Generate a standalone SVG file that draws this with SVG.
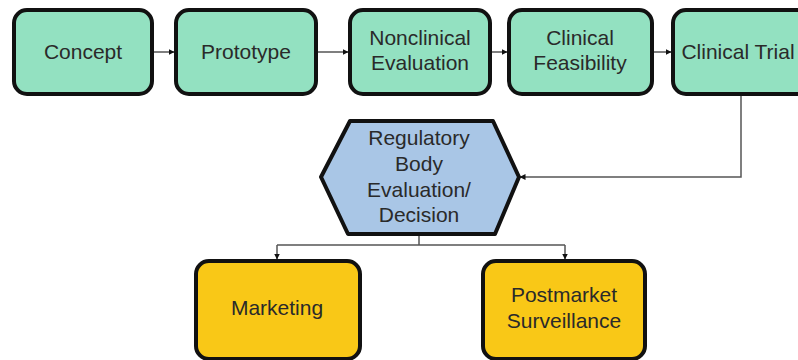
<svg xmlns="http://www.w3.org/2000/svg" width="798" height="360" viewBox="0 0 798 360">
<defs>
<marker id="ah" markerWidth="6" markerHeight="6" refX="5.5" refY="3" orient="auto" markerUnits="userSpaceOnUse">
<path d="M0,0 L6,3 L0,6 Z" fill="#111"/>
</marker>
<style>
.g{fill:#93e1c1;stroke:#111;stroke-width:4}
.y{fill:#f9c817;stroke:#111;stroke-width:4}
.h{fill:#a9c6e6;stroke:#111;stroke-width:4;stroke-linejoin:round}
text{font-family:"Liberation Sans",Arial,sans-serif;font-size:21px;fill:#2a2a2a;text-anchor:middle}
.c{fill:none;stroke:#555;stroke-width:1.5}
</style>
</defs>
<rect width="798" height="360" fill="#fff"/>
<g id="connectors">
<path class="c" d="M152,52 H174" marker-end="url(#ah)"/>
<path class="c" d="M316,52 H348" marker-end="url(#ah)"/>
<path class="c" d="M490,52 H507" marker-end="url(#ah)"/>
<path class="c" d="M652,52 H671" marker-end="url(#ah)"/>
<path class="c" d="M741,94 V177 H520" marker-end="url(#ah)"/>
<path class="c" d="M419,234 V245"/>
<path class="c" d="M277,245 H565"/>
<path class="c" d="M277,245 V259" marker-end="url(#ah)"/>
<path class="c" d="M565,245 V259" marker-end="url(#ah)"/>
</g>
<g id="concept"><rect class="g" x="14" y="10" width="138" height="84" rx="13"/><text x="83" y="59">Concept</text></g>
<g id="prototype"><rect class="g" x="176" y="10" width="140" height="84" rx="13"/><text x="246" y="59">Prototype</text></g>
<g id="nonclinical"><rect class="g" x="350" y="10" width="140" height="84" rx="13"/><text x="420" y="45">Nonclinical</text><text x="420" y="70">Evaluation</text></g>
<g id="feasibility"><rect class="g" x="509" y="10" width="143" height="84" rx="13"/><text x="580" y="45">Clinical</text><text x="580" y="70">Feasibility</text></g>
<g id="trial"><rect class="g" x="673" y="10" width="150" height="84" rx="13"/><text x="738" y="59">Clinical Trial</text></g>
<g id="regulatory"><polygon class="h" points="350,121 493,121 519,177 495,234 348,234 321,177"/>
<text x="419" y="145">Regulatory</text><text x="419" y="171">Body</text><text x="419" y="197">Evaluation/</text><text x="419" y="222">Decision</text></g>
<g id="marketing"><rect class="y" x="196" y="261" width="164" height="98" rx="13"/><text x="277" y="315">Marketing</text></g>
<g id="postmarket"><rect class="y" x="483" y="261" width="162" height="98" rx="13"/><text x="564" y="302">Postmarket</text><text x="564" y="328">Surveillance</text></g>
</svg>
